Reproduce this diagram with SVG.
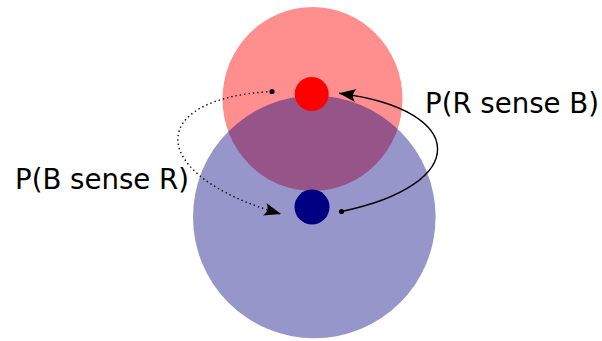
<svg xmlns="http://www.w3.org/2000/svg" width="602" height="341" viewBox="0 0 602 341">
  <style>
    .lbl { font-family: "DejaVu Sans", sans-serif; font-size: 27.6px; fill: #000; }
    .conn { fill: none; stroke: #000; stroke-width: 1.4; }
  </style>
  <defs>
    <marker id="arr" markerUnits="userSpaceOnUse" markerWidth="30" markerHeight="30" refX="0" refY="0" orient="auto" overflow="visible" viewBox="-20 -10 30 20">
      <path d="M0,0 L-17,-6.5 C-13.3,-2.2 -13.3,2.2 -17,6.5 Z" fill="#000"/>
    </marker>
  </defs>
  <rect width="602" height="341" fill="#fff"/>
  <g id="red-region">
    <ellipse cx="312.5" cy="99" rx="90" ry="92" fill="#ff0000" fill-opacity="0.44"/>
  </g>
  <g id="blue-region">
    <circle cx="314.3" cy="217" r="121.3" fill="#000080" fill-opacity="0.41"/>
  </g>
  <g id="R">
    <circle cx="311.7" cy="94" r="17" fill="#ff0000"/>
  </g>
  <g id="B">
    <circle cx="312" cy="207" r="17.5" fill="#000080"/>
  </g>
  <g id="connectors">
    <path class="conn" d="M272,91.5 C145,98 145,175 281,214" stroke-dasharray="1.4,3" marker-end="url(#arr)"/>
    <circle cx="272" cy="91.5" r="2.6" fill="#000"/>
    <path class="conn" d="M341.5,211.5 C470,185 470,110 339,93.3" marker-end="url(#arr)"/>
    <circle cx="341.5" cy="211.5" r="2.6" fill="#000"/>
  </g>
  <g id="labels">
    <text class="lbl" x="15" y="188.5">P(B sense R)</text>
    <text class="lbl" x="425" y="112.5">P(R sense B)</text>
  </g>
</svg>
